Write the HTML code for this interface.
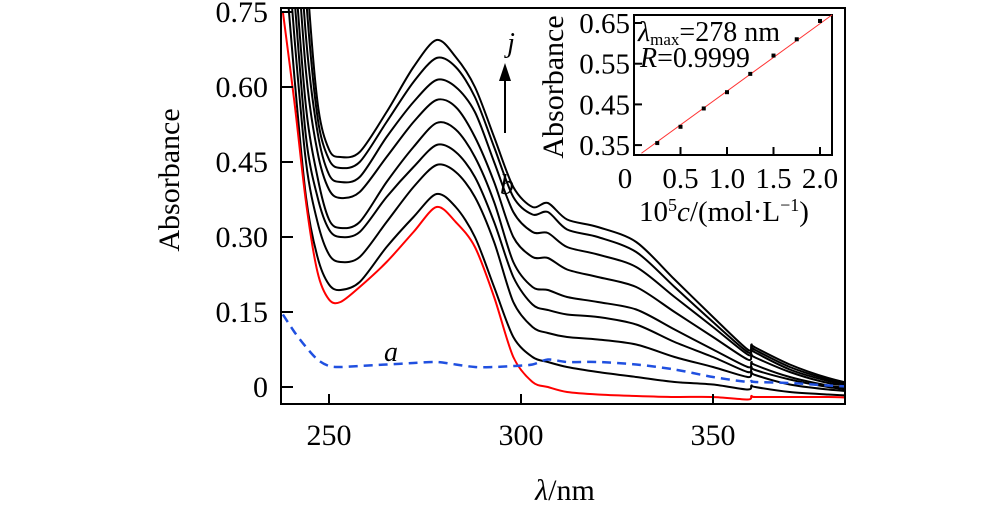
<!DOCTYPE html>
<html><head><meta charset="utf-8"><style>
html,body{margin:0;padding:0;background:#fff;}
svg{display:block;font-family:"Liberation Serif",serif;}
</style></head><body>
<svg id="chart" width="1000" height="505" viewBox="0 0 1000 505">
<defs><clipPath id="plotclip"><rect x="281" y="8" width="564" height="396"/></clipPath></defs>
<g id="curves" clip-path="url(#plotclip)"></g>
<rect x="281" y="8" width="564" height="396" fill="none" stroke="#000" stroke-width="2"/>
<g id="axes"></g>
<text x="172" y="180" font-size="30" text-anchor="middle" transform="rotate(-90 172 180)" dominant-baseline="middle">Absorbance</text>
<text x="565" y="500" font-size="30" text-anchor="middle"><tspan font-style="italic">λ</tspan>/nm</text>
<text x="391" y="361" font-size="28" font-style="italic" text-anchor="middle">a</text>
<text x="507" y="194" font-size="28" font-style="italic" text-anchor="middle">b</text>
<text x="511" y="52" font-size="28" font-style="italic" text-anchor="middle">j</text>
<line x1="505" y1="133" x2="505" y2="78" stroke="#000" stroke-width="2"/>
<polygon points="505,63 499,81 511,81" fill="#000"/>
<rect x="634" y="15" width="198" height="140" fill="#fff" stroke="#000" stroke-width="2"/>
<g id="inset"></g>
<text x="638" y="41" font-size="28"><tspan font-style="italic">λ</tspan><tspan font-size="17" dy="4">max</tspan><tspan dy="-4">=278 nm</tspan></text>
<text x="640" y="67" font-size="28"><tspan font-style="italic">R</tspan>=0.9999</text>
<text x="556" y="87" font-size="30" text-anchor="middle" dominant-baseline="middle" transform="rotate(-90 556 87)">Absorbance</text>
<text x="724" y="221" font-size="29" text-anchor="middle">10<tspan font-size="18" dy="-10">5</tspan><tspan dy="10" font-style="italic">c</tspan>/(mol·L<tspan font-size="18" dy="-10">−1</tspan><tspan dy="10">)</tspan></text>
</svg>
<script>
const NS="http://www.w3.org/2000/svg";
// main chart data
const wavelengths=[238,241,244,247,250,253,258,265,272,278,283,288,293,298,303,307,312,320,330,340,350,359,360,361,370,380,388];
const seriesB=[0.75,0.57,0.37,0.23,0.175,0.17,0.2,0.25,0.31,0.36,0.33,0.28,0.18,0.06,0.01,0.0,-0.01,-0.015,-0.018,-0.02,-0.02,-0.025,-0.018,-0.02,-0.02,-0.02,-0.022];
const seriesC=[0.9,0.62,0.38,0.26,0.205,0.194,0.21,0.28,0.34,0.386,0.36,0.3,0.2,0.1,0.06,0.05,0.04,0.03,0.02,0.01,0.005,-0.005,0.003,0,-0.01,-0.015,-0.018];
const seriesD=[1.0,0.7,0.45,0.33,0.265,0.25,0.26,0.33,0.4,0.444,0.43,0.38,0.29,0.17,0.12,0.108,0.1,0.095,0.085,0.06,0.04,0.02,0.03,0.024,0.005,-0.005,-0.01];
const seriesE=[1.1,0.78,0.5,0.38,0.315,0.3,0.31,0.38,0.44,0.484,0.47,0.42,0.33,0.22,0.165,0.154,0.145,0.14,0.125,0.09,0.06,0.03,0.04,0.034,0.015,0,-0.008];
const seriesF=[1.2,0.85,0.56,0.42,0.335,0.318,0.33,0.41,0.48,0.528,0.515,0.46,0.37,0.25,0.2,0.194,0.18,0.17,0.155,0.115,0.075,0.04,0.05,0.044,0.02,0.003,-0.005];
const seriesG=[1.3,0.95,0.63,0.47,0.395,0.378,0.39,0.46,0.53,0.574,0.56,0.5,0.41,0.3,0.26,0.258,0.235,0.22,0.2,0.15,0.1,0.055,0.065,0.059,0.03,0.008,0];
const seriesH=[1.4,1.05,0.7,0.51,0.425,0.41,0.42,0.5,0.57,0.614,0.6,0.55,0.45,0.35,0.31,0.308,0.28,0.265,0.24,0.18,0.12,0.065,0.075,0.069,0.035,0.012,0];
const seriesI=[1.5,1.15,0.78,0.54,0.455,0.438,0.45,0.53,0.61,0.658,0.64,0.58,0.48,0.38,0.345,0.35,0.315,0.3,0.27,0.2,0.13,0.07,0.08,0.074,0.04,0.015,0.002];
const seriesJ=[1.6,1.25,0.85,0.57,0.475,0.46,0.47,0.55,0.64,0.694,0.66,0.6,0.5,0.4,0.36,0.368,0.335,0.32,0.29,0.215,0.14,0.075,0.085,0.079,0.045,0.018,0.003];
const seriesA=[0.145,0.11,0.08,0.055,0.042,0.04,0.042,0.045,0.048,0.05,0.045,0.04,0.04,0.042,0.045,0.055,0.05,0.05,0.045,0.035,0.02,0.01,0.012,0.01,0.008,0.003,0.0];
const xTicks=[250,300,350];
const yTicks=[0,0.15,0.30,0.45,0.60,0.75];
const yTickLabels=["0","0.15","0.30","0.45","0.60","0.75"];
// inset data
const insetConc=[0.25,0.5,0.75,1.0,1.25,1.5,1.75,2.0];
const insetAbs=[0.355,0.395,0.44,0.48,0.525,0.57,0.61,0.655];
const insetFit=[[0.08,0.33],[2.13,0.67]];
const insetXTicks=[0.5,1.0,1.5,2.0];
const insetXLabels=["0","0.5","1.0","1.5","2.0"];
const insetYTicks=[0.35,0.45,0.55,0.65];
const insetYLabels=["0.35","0.45","0.55","0.65"];

const X=nm=>329+(nm-250)*3.84;
const Y=a=>387-500*a;
const IX=c=>634+c*93;
const IY=a=>23+(0.65-a)*407;

function path(xs,ys){
  const p=xs.map((v,i)=>[X(v),Y(ys[i])]);
  let d="M"+p[0][0].toFixed(1)+","+p[0][1].toFixed(1);
  for(let i=0;i<p.length-1;i++){
    const p0=p[Math.max(i-1,0)],p1=p[i],p2=p[i+1],p3=p[Math.min(i+2,p.length-1)];
    const t=0.15;
    const c1=[p1[0]+(p2[0]-p0[0])*t,p1[1]+(p2[1]-p0[1])*t];
    const c2=[p2[0]-(p3[0]-p1[0])*t,p2[1]-(p3[1]-p1[1])*t];
    d+="C"+c1.map(v=>v.toFixed(1)).join(",")+" "+c2.map(v=>v.toFixed(1)).join(",")+" "+p2[0].toFixed(1)+","+p2[1].toFixed(1);
  }
  return d;
}
const g=document.getElementById("curves");
const blacks=[["series-c",seriesC],["series-d",seriesD],["series-e",seriesE],["series-f",seriesF],["series-g",seriesG],["series-h",seriesH],["series-i",seriesI],["series-j",seriesJ]];
blacks.forEach(([n,s])=>{
  const p=document.createElementNS(NS,"path");
  p.setAttribute("d",path(wavelengths,s));p.setAttribute("fill","none");p.setAttribute("stroke","#000");p.setAttribute("stroke-width","2");p.setAttribute("stroke-linejoin","round");
  
  
  g.appendChild(p);
});
{
  const p=document.createElementNS(NS,"path");
  p.setAttribute("d",path(wavelengths,seriesB));p.setAttribute("fill","none");p.setAttribute("stroke","#f00");p.setAttribute("stroke-width","2");
  
  
  g.appendChild(p);
  const q=document.createElementNS(NS,"path");
  q.setAttribute("d",path(wavelengths,seriesA));q.setAttribute("fill","none");q.setAttribute("stroke","#2050e0");q.setAttribute("stroke-width","2.5");q.setAttribute("stroke-dasharray","9,6");
  
  
  g.appendChild(q);
}
const ax=document.getElementById("axes");
function el(tag,attrs,parent,txt){const e=document.createElementNS(NS,tag);for(const k in attrs)e.setAttribute(k,attrs[k]);if(txt!==undefined)e.textContent=txt;parent.appendChild(e);return e;}
xTicks.forEach(t=>{
  const l=el("line",{x1:X(t),x2:X(t),y1:404,y2:394,stroke:"#000","stroke-width":2},ax);
  
  
  const tx=el("text",{x:X(t),y:445,"font-size":30,"text-anchor":"middle"},ax,String(t));
  
  
});
yTicks.forEach((t,i)=>{
  const l=el("line",{x1:281,x2:293,y1:Y(t),y2:Y(t),stroke:"#000","stroke-width":2},ax);
  
  
  const tx=el("text",{x:268,y:Y(t)+10,"font-size":30,"text-anchor":"end"},ax,yTickLabels[i]);
  
  
});
const ins=document.getElementById("inset");
{
  const f=el("line",{x1:IX(insetFit[0][0]),y1:IY(insetFit[0][1]),x2:IX(insetFit[1][0]),y2:IY(insetFit[1][1]),stroke:"#f33","stroke-width":1},ins);
  
  
}
insetConc.forEach((c,i)=>{
  const r=el("rect",{x:IX(c)-2,y:IY(insetAbs[i])-2,width:4,height:4,fill:"#000"},ins);
  
  
});
insetXTicks.forEach(t=>{
  const l=el("line",{x1:IX(t),x2:IX(t),y1:155,y2:147,stroke:"#000","stroke-width":2},ins);
  
  
});
[0].concat(insetXTicks).forEach((t,i)=>{
  const tx=el("text",{x:t===0?625:IX(t),y:188,"font-size":29,"text-anchor":"middle"},ins,insetXLabels[i]);
  
  
});
insetYTicks.forEach((t,i)=>{
  const l=el("line",{x1:634,x2:642,y1:IY(t),y2:IY(t),stroke:"#000","stroke-width":2},ins);
  
  
  const tx=el("text",{x:630,y:IY(t)+10,"font-size":29,"text-anchor":"end"},ins,insetYLabels[i]);
  
  
});
</script>
</body></html>
